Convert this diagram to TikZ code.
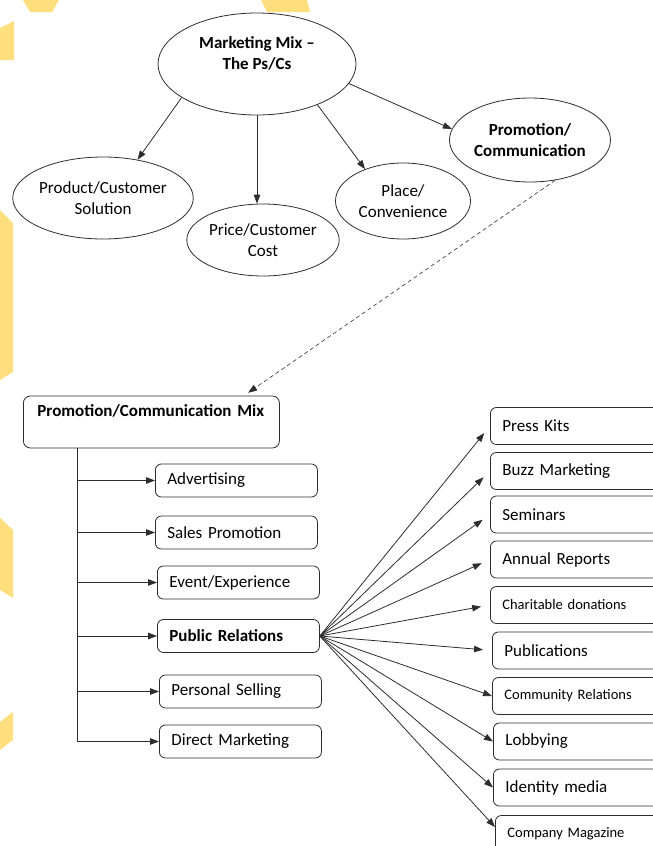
\documentclass[tikz,border=0pt]{standalone}
\usepackage{fontspec}
\setmainfont{Carlito}
\usepackage{tikz}
\usetikzlibrary{shapes.geometric,arrows.meta,calc}
\definecolor{tile}{RGB}{255,222,125}
\definecolor{ink}{RGB}{45,45,45}

\begin{document}
\begin{tikzpicture}[x=1pt,y=-1pt,line width=0.8pt,>={Triangle[length=9pt,width=6.5pt]},
    font=\fontsize{17}{21}\selectfont]
    \tikzstyle{bold}=[font=\fontsize{17}{21}\selectfont\bfseries]
    \tikzstyle{small text}=[font=\fontsize{14.5}{18}\selectfont]
    \tikzstyle{oval}=[ellipse,draw=ink,align=center,inner sep=0]
    \tikzstyle{head box}=[draw=ink,rounded corners=7,anchor=west,minimum height=52,inner xsep=14,text width=228,align=left,text depth=22]
    \tikzstyle{tool box}=[draw=ink,rounded corners=6,anchor=west,minimum height=33,inner xsep=12,text width=138,align=left]
    \tikzstyle{pr box}=[draw=ink,rounded corners=6,anchor=west,minimum height=37,inner xsep=12,text width=151,align=left]
    \tikzstyle{link}=[draw=ink,->]
    \tikzstyle{short link}=[link,shorten >=9]

    \useasboundingbox (0,0) rectangle (653,846);
    \clip (0,0) rectangle (653,846);
% background tiles
\fill[tile] (23,0)--(59,0)--(52,12)--(30,12)--cycle;
\fill[tile] (261,0)--(307,0)--(310,12)--(267,12)--cycle;
\fill[tile] (0,28)--(14,21)--(14,60)--(0,60)--cycle;
\fill[tile] (0,210)--(13,223)--(13,372)--(0,380)--cycle;
\fill[tile] (0,518)--(13,530)--(13,598)--(0,590)--cycle;
\fill[tile] (0,722)--(13,712)--(13,740)--(0,750)--cycle;

% the Ps/Cs
\node(mm)[oval,bold,minimum width=198,minimum height=102,text depth=22] at (257,64) {Marketing Mix --\\The Ps/Cs};
\node(prod)[oval,minimum width=172,minimum height=82] at (103,198) {Product/Customer\\Solution};
\node(price)[oval,minimum width=149,minimum height=72] at (263,240) {Price/Customer\\Cost};
\node(place)[oval,minimum width=135,minimum height=76] at (403,201) {Place/\\Convenience};
\node(promo)[oval,bold,minimum width=161,minimum height=84] at (530,140) {Promotion/\\Communication};

\draw[link] (mm.204) -- (prod.48);
\draw[link] (mm.south) -- (price.north -| mm.south);
\draw[link] (mm.326) -- (place.140);
\draw[link] (mm.348) -- (promo.172);

% communication mix
\node(mix)[head box,bold] at (23,422) {Promotion/Communication Mix};
\coordinate (mixtip) at ($(mix.north west)+(221,0)$);
\draw[link,line width=0.6pt,dash pattern=on 4pt off 3pt,shorten >=5] (promo.-58) -- (mixtip);

\node(adv)[tool box] at (155,480.5) {Advertising};
\node(sales)[tool box] at (155,532.5) {Sales Promotion};
\node(event)[tool box] at (157,582.5) {Event/Experience};
\node(pr)[tool box,bold] at (157,636) {Public Relations};
\node(sell)[tool box] at (159,691.5) {Personal Selling};
\node(dm)[tool box] at (159,741.5) {Direct Marketing};

\coordinate (trunk) at ($(mix.south west)+(54,0)$);
\draw[ink] (trunk) -- (trunk |- dm.west);
\draw[link] (trunk |- adv.west) -- (adv.west);
\draw[link] (trunk |- sales.west) -- (sales.west);
\draw[link] (trunk |- event.west) -- (event.west);
\draw[link] (trunk |- pr.west) -- (pr.west);
\draw[link] (trunk |- sell.west) -- (sell.west);
\draw[link] (trunk |- dm.west) -- (dm.west);

% public relations tools
\node(kits)[pr box] at (490,426) {Press Kits};
\node(buzz)[pr box] at (490,471) {Buzz Marketing};
\node(sem)[pr box] at (490,514.5) {Seminars};
\node(annual)[pr box] at (490,559.5) {Annual Reports};
\node(charity)[pr box,small text] at (490,605) {Charitable donations};
\node(pub)[pr box] at (492,650.5) {Publications};
\node(comm)[pr box,small text] at (492,696) {Community Relations};
\node(lobby)[pr box] at (493,741.5) {Lobbying};
\node(ident)[pr box] at (493,787.5) {Identity media};
\node(mag)[pr box,small text] at (495,834) {Company Magazine};

\draw[short link] (pr.east) -- (kits.west);
\draw[short link] (pr.east) -- (buzz.west);
\draw[short link] (pr.east) -- (sem.west);
\draw[short link] (pr.east) -- (annual.west);
\draw[short link] (pr.east) -- (charity.west);
\draw[short link] (pr.east) -- (pub.west);
\draw[link] (pr.east) -- (comm.west);
\draw[link] (pr.east) -- (lobby.west);
\draw[link] (pr.east) -- (ident.west);
\draw[link] (pr.east) -- ($(mag.west)+(0,-7)$);
\end{tikzpicture}
\end{document}
